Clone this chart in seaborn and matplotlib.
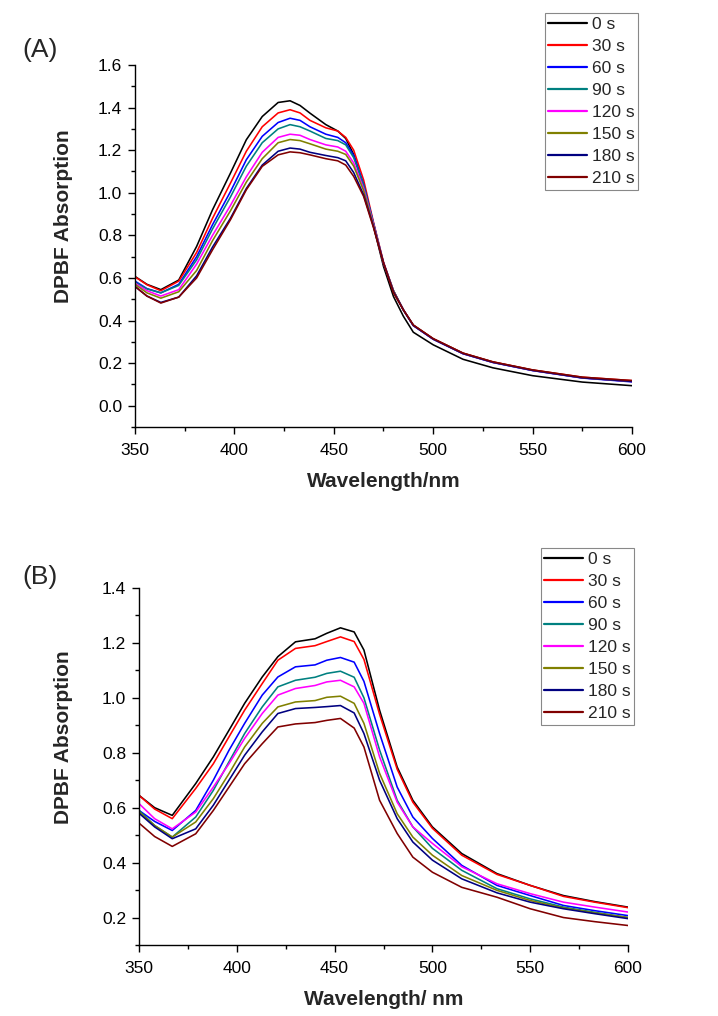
import numpy as np
import pandas as pd
import matplotlib
matplotlib.use("Agg")
import matplotlib.pyplot as plt
from matplotlib.ticker import MultipleLocator
import seaborn as sns

# ---------------- data ----------------
times = ["0 s", "30 s", "60 s", "90 s", "120 s", "150 s", "180 s", "210 s"]
colors = ["#000000", "#FF0000", "#0000FF", "#008080", "#FF00FF", "#808000", "#000080", "#800000"]

wl_A = [350, 356, 363, 372, 381, 389, 398, 406, 414, 422, 428, 433, 438, 446, 452, 456,
        460, 465, 470, 475, 480, 485, 490, 500, 515, 530, 550, 575, 600]
A_0s   = [0.607, 0.570, 0.545, 0.590, 0.748, 0.920, 1.092, 1.249, 1.358, 1.424, 1.432, 1.410, 1.374, 1.320, 1.290, 1.255,
          1.180, 1.030, 0.842, 0.654, 0.513, 0.420, 0.345, 0.286, 0.218, 0.178, 0.141, 0.111, 0.094]
A_30s  = [0.605, 0.568, 0.540, 0.585, 0.720, 0.880, 1.045, 1.195, 1.310, 1.375, 1.390, 1.375, 1.340, 1.305, 1.290, 1.260,
          1.200, 1.060, 0.860, 0.675, 0.540, 0.450, 0.378, 0.315, 0.247, 0.206, 0.168, 0.134, 0.118]
A_60s  = [0.585, 0.550, 0.530, 0.570, 0.700, 0.850, 1.005, 1.155, 1.265, 1.330, 1.350, 1.340, 1.310, 1.275, 1.260, 1.235,
          1.175, 1.040, 0.855, 0.670, 0.540, 0.450, 0.376, 0.312, 0.244, 0.203, 0.165, 0.130, 0.112]
A_90s  = [0.580, 0.548, 0.530, 0.565, 0.685, 0.830, 0.980, 1.125, 1.235, 1.300, 1.320, 1.310, 1.290, 1.255, 1.245, 1.225,
          1.165, 1.035, 0.855, 0.670, 0.540, 0.450, 0.377, 0.313, 0.245, 0.204, 0.166, 0.131, 0.114]
A_120s = [0.575, 0.540, 0.515, 0.545, 0.665, 0.800, 0.940, 1.075, 1.190, 1.260, 1.275, 1.270, 1.250, 1.225, 1.215, 1.195,
          1.140, 1.020, 0.850, 0.670, 0.540, 0.450, 0.377, 0.313, 0.245, 0.204, 0.166, 0.131, 0.114]
A_150s = [0.570, 0.530, 0.505, 0.535, 0.635, 0.775, 0.915, 1.050, 1.160, 1.235, 1.250, 1.245, 1.230, 1.205, 1.195, 1.180,
          1.125, 1.010, 0.845, 0.670, 0.540, 0.450, 0.378, 0.314, 0.246, 0.205, 0.167, 0.132, 0.115]
A_180s = [0.560, 0.515, 0.485, 0.510, 0.610, 0.745, 0.880, 1.020, 1.130, 1.195, 1.210, 1.205, 1.190, 1.175, 1.165, 1.150,
          1.095, 0.990, 0.840, 0.670, 0.535, 0.450, 0.377, 0.313, 0.245, 0.204, 0.166, 0.131, 0.114]
A_210s = [0.560, 0.515, 0.482, 0.510, 0.600, 0.732, 0.873, 1.014, 1.124, 1.178, 1.192, 1.188, 1.178, 1.160, 1.150, 1.130,
          1.077, 0.983, 0.835, 0.670, 0.530, 0.450, 0.379, 0.315, 0.247, 0.206, 0.168, 0.134, 0.118]

wl_B = [350, 358, 367, 379, 388, 396, 404, 413, 421, 430, 440, 446, 453, 460, 465,
        473, 482, 490, 500, 515, 533, 550, 567, 583, 600]
B_0s   = [0.645, 0.600, 0.572, 0.688, 0.785, 0.882, 0.980, 1.076, 1.150, 1.204, 1.215, 1.235, 1.255, 1.240, 1.174,
          0.955, 0.748, 0.627, 0.530, 0.433, 0.360, 0.317, 0.280, 0.258, 0.238]
B_30s  = [0.645, 0.595, 0.560, 0.670, 0.760, 0.858, 0.955, 1.052, 1.137, 1.180, 1.190, 1.205, 1.222, 1.205, 1.140,
          0.940, 0.740, 0.620, 0.525, 0.427, 0.357, 0.317, 0.277, 0.256, 0.236]
B_60s  = [0.590, 0.550, 0.517, 0.590, 0.700, 0.809, 0.907, 1.010, 1.076, 1.113, 1.120, 1.137, 1.147, 1.130, 1.060,
          0.870, 0.675, 0.566, 0.488, 0.390, 0.317, 0.280, 0.244, 0.225, 0.207]
B_90s  = [0.590, 0.535, 0.493, 0.566, 0.663, 0.767, 0.870, 0.967, 1.040, 1.064, 1.075, 1.089, 1.097, 1.075, 1.000,
          0.810, 0.627, 0.530, 0.452, 0.372, 0.305, 0.268, 0.238, 0.219, 0.200]
B_120s = [0.615, 0.560, 0.523, 0.584, 0.675, 0.760, 0.852, 0.943, 1.010, 1.034, 1.045, 1.058, 1.064, 1.040, 0.980,
          0.785, 0.620, 0.530, 0.470, 0.385, 0.323, 0.287, 0.256, 0.238, 0.220]
B_150s = [0.585, 0.535, 0.493, 0.548, 0.633, 0.724, 0.821, 0.907, 0.967, 0.985, 0.990, 1.002, 1.006, 0.980, 0.907,
          0.725, 0.578, 0.493, 0.427, 0.353, 0.299, 0.262, 0.235, 0.217, 0.200]
B_180s = [0.580, 0.530, 0.487, 0.523, 0.609, 0.700, 0.791, 0.876, 0.943, 0.961, 0.965, 0.968, 0.972, 0.945, 0.870,
          0.700, 0.560, 0.475, 0.409, 0.341, 0.290, 0.256, 0.232, 0.214, 0.196]
B_210s = [0.544, 0.495, 0.459, 0.505, 0.590, 0.675, 0.760, 0.833, 0.894, 0.905, 0.910, 0.918, 0.925, 0.890, 0.821,
          0.627, 0.506, 0.420, 0.365, 0.310, 0.274, 0.232, 0.200, 0.185, 0.171]

series_A = [A_0s, A_30s, A_60s, A_90s, A_120s, A_150s, A_180s, A_210s]
series_B = [B_0s, B_30s, B_60s, B_90s, B_120s, B_150s, B_180s, B_210s]


def long_form(wl, series):
    rows = []
    for t, vals in zip(times, series):
        for w, v in zip(wl, vals):
            rows.append({"wl": w, "abs": v, "time": t})
    return pd.DataFrame(rows)


dfA = long_form(wl_A, series_A)
dfB = long_form(wl_B, series_B)

# ---------------- style ----------------
sns.set_theme(style="ticks")
plt.rcParams["font.family"] = ["Liberation Sans", "DejaVu Sans"]

W, H = 718, 1016
fig = plt.figure(figsize=(W / 100, H / 100), dpi=100)
fig.patch.set_facecolor("white")

palette = dict(zip(times, colors))


def setup(ax, ylim, yticks, ylabel, xlabel, tag, tag_xy, ylab_xy):
    ax.set_xlim(350, 600)
    ax.set_ylim(*ylim)
    ax.set_xticks([350, 400, 450, 500, 550, 600])
    ax.set_yticks(yticks)
    ax.set_yticklabels([f"{v:.1f}" for v in yticks])
    ax.xaxis.set_minor_locator(MultipleLocator(25))
    ax.yaxis.set_minor_locator(MultipleLocator(0.1))
    ax.tick_params(which="major", direction="out", length=4.8, width=1, labelsize=12.5, colors="black")
    ax.tick_params(which="minor", direction="out", length=2.6, width=1, colors="black")
    ax.tick_params(axis="x", which="major", pad=6.5)
    ax.tick_params(axis="y", which="major", pad=4.5)
    for s in ["top", "right"]:
        ax.spines[s].set_visible(False)
    for s in ["left", "bottom"]:
        ax.spines[s].set_linewidth(1.0)
        ax.spines[s].set_color("black")
    ax.set_xlabel(xlabel, fontsize=15, fontweight="bold", labelpad=10)
    ax.set_ylabel(ylabel, fontsize=15, fontweight="bold")
    ax.yaxis.set_label_coords(*ylab_xy)
    ax.set_facecolor("white")
    fig.text(tag_xy[0], tag_xy[1], tag, fontsize=19, ha="left", va="center")


def draw(ax, df, legend_anchor):
    sns.lineplot(data=df, x="wl", y="abs", hue="time", hue_order=times, palette=palette,
                 linewidth=1.15, ax=ax, legend=True, estimator=None, sort=True)
    handles, labels = ax.get_legend_handles_labels()
    leg = ax.legend(handles, labels, loc="upper right", bbox_to_anchor=legend_anchor,
                    bbox_transform=fig.transFigure, fontsize=12.5, frameon=True,
                    fancybox=False, edgecolor="#888888", framealpha=1, borderaxespad=0,
                    handlelength=2.2, handletextpad=0.3, labelspacing=0.40, borderpad=0.2)
    leg.get_frame().set_linewidth(0.8)
    for h in leg.get_lines():
        h.set_linewidth(1.6)


axA = fig.add_axes([135 / W, 1 - 427 / H, (632 - 135) / W, (427 - 65) / H])
draw(axA, dfA, (638 / W, 1 - 13 / H))
setup(axA, (-0.1, 1.6), [0.0, 0.2, 0.4, 0.6, 0.8, 1.0, 1.2, 1.4, 1.6],
      "DPBF Absorption", "Wavelength/nm", "(A)", (22 / W, 1 - 50 / H),
      ((73 - 135) / 497, 0.583))

axB = fig.add_axes([139 / W, 1 - 945 / H, (628 - 139) / W, (945 - 588) / H])
draw(axB, dfB, (634 / W, 1 - 548 / H))
setup(axB, (0.1, 1.4), [0.2, 0.4, 0.6, 0.8, 1.0, 1.2, 1.4],
      "DPBF Absorption", "Wavelength/ nm", "(B)", (22 / W, 1 - 577 / H),
      ((73 - 139) / 489, 0.583))

fig.savefig("out.png", dpi=100, facecolor="white")
